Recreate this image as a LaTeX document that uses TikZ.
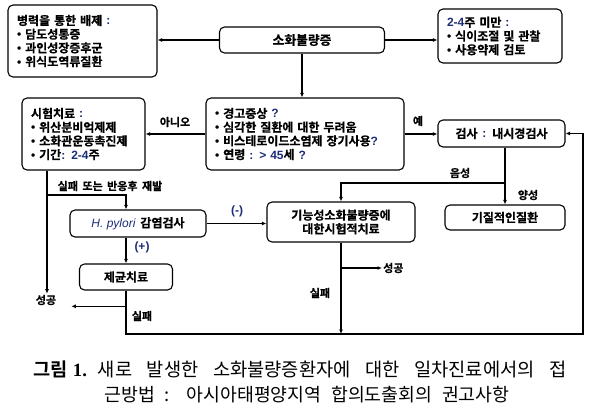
\documentclass[tikz,border=0pt]{standalone}
\usepackage{fontspec}
\setmainfont{Noto Sans CJK KR}[BoldFont={Noto Sans CJK KR Bold}, BoldFeatures={FakeBold=0.6}, WordSpace=1.8]
\newfontfamily\capfont{Noto Sans CJK KR}[BoldFont={Noto Sans CJK KR Bold}]
\newfontfamily\lat{Liberation Sans}
\newfontfamily\latserif{Liberation Serif}
\usetikzlibrary{arrows.meta}
\definecolor{nv}{RGB}{30,45,120}
\newcommand{\nv}[1]{{\lat\bfseries\color{nv}#1}}
\newcommand{\bu}{{\lat\textbullet}\ }
\tikzset{
  box/.style={draw, rounded corners=5pt, line width=1.1pt, inner sep=0pt,
    font=\bfseries\fontsize{12}{13.7}\selectfont},
  lst/.style={box, align=left, inner xsep=9pt},
  lbl/.style={font=\bfseries\fontsize{11}{12}\selectfont, inner sep=1pt},
  arr/.style={line width=1.1pt, -{Latex[length=4.5pt,width=4pt]}},
  ln/.style={line width=1.1pt}
}
\begin{document}
\begin{tikzpicture}[x=1pt,y=-1pt]
\useasboundingbox (0,0) rectangle (594,416);
% boxes
\node[lst, minimum width=149pt, minimum height=72pt, text width=131pt] (excl) at (82.5,41)
  {병력을 통한 배제 \nv{:}\\ \bu 담도성통증\\ \bu 과인성장증후군\\ \bu 위식도역류질환};
\node[box, minimum width=165pt, minimum height=26pt, font=\bfseries\fontsize{12.8}{14}\selectfont] (main) at (302,40) {소화불량증};
\node[lst, minimum width=124pt, minimum height=54pt, text width=106pt] (short) at (500,36)
  {\nv{2-4}주 미만 \nv{:}\\ \bu 식이조절 및 관찰\\ \bu 사용약제 검토};
\node[lst, minimum width=123pt, minimum height=72pt, text width=105pt] (trial) at (83.5,134)
  {시험치료 \nv{:}\\ \bu 위산분비억제제\\ \bu 소화관운동촉진제\\ \bu 기간\nv{: 2-4}주};
\node[lst, minimum width=198pt, minimum height=72pt, text width=180pt] (quest) at (305,134)
  {\bu 경고증상 \nv{?}\\ \bu 심각한 질환에 대한 두려움\\ \bu 비스테로이드소염제 장기사용\nv{?}\\ \bu 연령 \nv{: > 45}세 \nv{?}};
\node[box, minimum width=127pt, minimum height=27pt] (exam) at (501.5,133.5) {검사 \nv{:} 내시경검사};
\node[box, minimum width=120pt, minimum height=25pt] (organic) at (505,217.5) {기질적인질환};
\node[box, minimum width=148pt, minimum height=40pt, align=center] (func) at (341,222)
  {기능성소화불량증에\\대한시험적치료};
\node[box, minimum width=136pt, minimum height=27pt] (hp) at (138,223.5)
  {{\lat\mdseries\itshape\color{nv}H. pylori} 감염검사};
\node[box, minimum width=93pt, minimum height=26pt] (erad) at (126,277) {제균치료};
% labels
\node[lbl] (no) at (175,122) {아니오};
\node[lbl] (yes) at (418,121) {예};
\node[lbl] (neg) at (460,173) {음성};
\node[lbl] (pos) at (528,195) {양성};
\node[lbl] (relapse) at (110,186) {실패 또는 반응후 재발};
\node[lbl, text=nv, font=\fontsize{12}{14}\selectfont] (minus) at (237,211) {\lat\bfseries(-)};
\node[lbl, text=nv, font=\fontsize{12}{14}\selectfont] (plus) at (142,247) {\lat\bfseries(+)};
\node[lbl] (succ1) at (46,300) {성공};
\node[lbl, anchor=west] (succ3) at (382,268) {성공};
\node[lbl] (fail1) at (142,316) {실패};
\node[lbl] (fail2) at (320,293) {실패};
% helper coordinates
\coordinate (ybot) at (0,334);
\coordinate (xr) at (583,0);
\coordinate (yneg) at (0,183);
\coordinate (xl) at (47,0);
\coordinate (ybr) at (0,195);
% connectors
\draw[arr] (main.west) -- (main.west -| excl.east);
\draw[arr] (main.east) -- (main.east -| short.west);
\draw[arr] (main.south) -- (main.south |- quest.north);
\draw[arr] (quest.west) -- (quest.west -| trial.east);
\draw[arr] (quest.east) -- (quest.east -| exam.west);
\draw[arr] (exam.south -| organic.north) -- (organic.north);
\draw[arr] (organic.north |- yneg) -| (func.north);
\draw[arr] (xl |- trial.south) -- (xl |- succ1.north);
\draw[arr] (xl |- ybr) -| (erad.north |- hp.north);
\draw[arr] (hp.south -| erad.north) -- (erad.north);
\draw[arr] (hp.east) -- (hp.east -| func.west);
\draw[arr] (erad.south) -- (erad.south |- ybot) -| (xr |- exam.east) -- (exam.east);
\draw[arr] (erad.south |- succ1.south) -- ([xshift=14pt]succ1.south east);
\draw[arr] (func.south) -- (func.south |- ybot);
\draw[arr] (func.south |- succ3.west) -- (succ3.west);
% caption
\node[inner sep=0pt, font=\capfont\fontsize{18.7}{20}\selectfont] (cap1) at (300,369)
  {\makebox[533pt][s]{\textbf{그림}\hspace{5pt}{\latserif\bfseries 1.}\hspace{11pt}새로 발생한 소화불량증환자에 대한 일차진료에서의 접}};
\node[inner sep=0pt, font=\capfont\fontsize{18.3}{20}\selectfont] (cap2) at (307,395)
  {\makebox[405pt][s]{근방법 : 아시아태평양지역 합의도출회의 권고사항}};
\end{tikzpicture}
\end{document}
